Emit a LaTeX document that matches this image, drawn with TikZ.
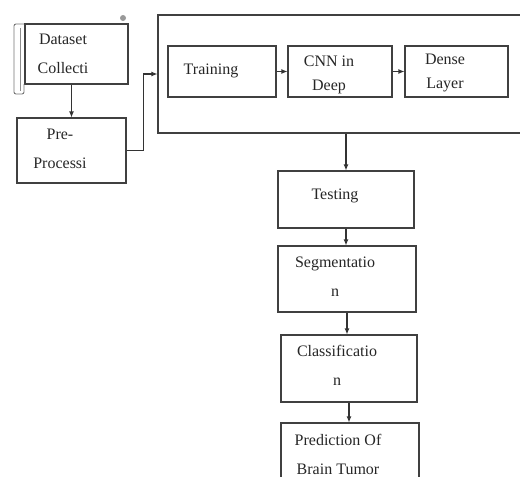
\documentclass[tikz,border=0pt]{standalone}
\usepackage{fontspec}
\setmainfont{Liberation Serif}
\usetikzlibrary{positioning,calc,arrows.meta}

\begin{document}
\begin{tikzpicture}[x=1pt,y=-1pt,
				box/.style={draw=black!75,line width=1.1pt,inner sep=0pt},
				txt/.style={align=center,inner sep=0pt,text=black!85,font=\fontsize{16}{29}\selectfont},
				tighttxt/.style={txt,font=\fontsize{16}{24}\selectfont},
				arr/.style={draw=black!80,line width=1.1pt,-{Latex[length=6pt,width=5pt]}}]
				\useasboundingbox (0,0) rectangle (520,477);
				% left column
				\node[box,minimum width=103pt,minimum height=60pt] (data) at (76.5,54) {};
				\draw[black!55,line width=0.9pt,rounded corners=2pt] (24,24) -- (14,24) -- (14,94) -- (24,94) -- (24,84);
				\draw[black!45,line width=0.7pt] (20,28) -- (20,91);
				\fill[black!40] (123,18) circle (3);
				\node[txt] (datatxt) at (63,54) {Dataset\\Collecti};
				\node[box,minimum width=109pt,minimum height=65pt] (pre) at (71.5,150.5) {};
				\node[txt] (pretxt) at (60,148.5) {Pre-\\Processi};
				% training block
				\node[box,minimum width=372pt,minimum height=118pt] (train) at (344,74) {};
				\node[box,minimum width=108pt,minimum height=51pt] (tr) at (222,71.5) {};
				\node[txt] (trtxt) at (211,71) {Training};
				\node[box,minimum width=104pt,minimum height=51pt] (cnn) at (340,71.5) {};
				\node[tighttxt] (cnntxt) at (329,75) {CNN in\\Deep};
				\node[box,minimum width=103pt,minimum height=51pt] (dense) at (456.5,71.5) {};
				\node[tighttxt] (densetxt) at (445,73) {Dense\\Layer};
				% right column
				\node[box,minimum width=136pt,minimum height=57pt] (test) at (346,199.5) {};
				\node[txt] (testtxt) at (335,196) {Testing};
				\node[box,minimum width=138pt,minimum height=66pt] (seg) at (347,279) {};
				\node[txt] (segtxt) at (335,277) {Segmentatio\\n};
				\node[box,minimum width=136pt,minimum height=67pt] (cls) at (349,368.5) {};
				\node[txt] (clstxt) at (337,365.5) {Classificatio\\n};
				\node[box,minimum width=138pt,minimum height=64pt] (pred) at (350,455) {};
				\node[txt] (predtxt) at (338,454.5) {Prediction Of\\Brain Tumor};
				% connectors
				\draw[arr] (pre.north |- data.south) -- (pre.north);
				\draw[arr] (pre.east) -- ++(17,0) |- (train.west);
				\draw[arr] (tr.east) -- (cnn.west);
				\draw[arr] (cnn.east) -- (dense.west);
				\draw[arr] (train.south -| test.north) -- (test.north);
				\draw[arr] (test.south) -- (test.south |- seg.north);
				\draw[arr] (seg.south) -- (seg.south |- cls.north);
				\draw[arr] (cls.south) -- (cls.south |- pred.north);
\end{tikzpicture}
\end{document}
